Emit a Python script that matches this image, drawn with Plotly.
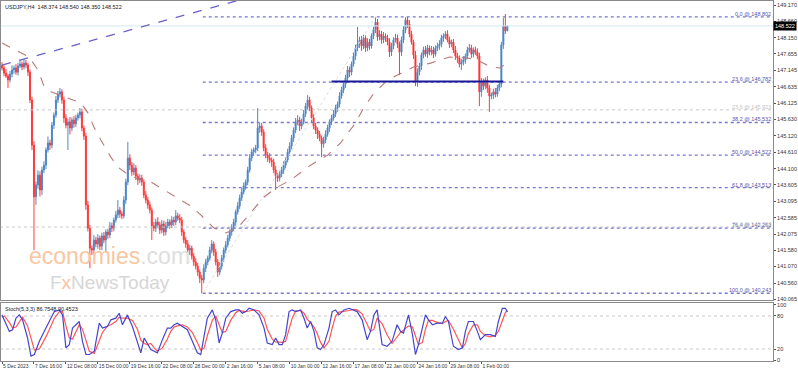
import plotly.graph_objects as go

# ---------------- data ----------------
first_open = 147.30
closes = [
    147.22, 147.06, 146.97, 146.85, 147.03, 147.16, 147.22, 147.09, 147.28, 147.34,
    147.25, 147.37, 147.31, 147.09, 146.23, 144.83, 143.23, 143.60, 143.90, 143.44,
    144.06, 144.21, 144.68, 144.90, 144.83, 145.45, 145.76, 146.23, 146.41, 146.48,
    146.23, 145.67, 145.45, 145.55, 145.36, 145.61, 145.49, 145.67, 145.76, 145.86,
    145.36, 145.11, 142.98, 142.26, 141.64, 141.58, 141.89, 141.77, 141.95, 141.70,
    142.02, 141.89, 142.14, 142.05, 142.33, 142.26, 142.51, 142.67, 142.82, 142.70,
    142.64, 143.13, 143.69, 144.43, 144.21, 144.00, 144.12, 143.87, 143.75, 143.81,
    143.69, 143.29, 143.13, 142.98, 142.82, 142.33, 142.26, 142.45, 142.36, 142.20,
    142.39, 142.14, 142.33, 142.45, 142.36, 142.51, 142.45, 142.64, 142.57, 142.51,
    142.14, 141.89, 141.77, 141.58, 141.64, 141.39, 141.21, 141.08, 140.90, 140.71,
    140.65, 141.02, 141.21, 141.33, 141.58, 141.77, 141.52, 141.21, 140.90, 141.08,
    141.33, 141.58, 141.74, 141.95, 142.14, 142.26, 142.45, 142.76, 142.95, 143.20,
    143.38, 143.57, 143.69, 144.06, 144.43, 144.62, 144.68, 144.74, 145.36, 145.42,
    145.24, 144.74, 144.52, 144.43, 144.37, 144.31, 144.06, 143.87, 143.81, 143.94,
    144.06, 144.21, 144.37, 144.62, 144.80, 145.05, 145.30, 145.55, 145.61, 145.42,
    145.55, 145.80, 146.04, 146.23, 145.98, 145.67, 145.42, 145.30, 145.17, 145.05,
    144.87, 144.99, 145.17, 145.36, 145.55, 145.67, 145.80, 145.98, 146.10, 146.35,
    146.54, 146.72, 146.91, 147.16, 147.09, 147.34, 147.59, 147.84, 147.96, 148.09,
    147.90, 148.15, 147.84, 148.02, 147.90, 148.21, 148.40, 148.64, 148.18, 148.27,
    148.09, 148.21, 148.15, 148.02, 147.71, 147.90, 148.09, 148.15, 147.96, 147.71,
    148.09, 148.40, 148.71, 148.58, 148.27, 148.02, 147.62, 146.79, 147.09, 147.28,
    147.62, 147.78, 147.65, 147.84, 147.71, 147.78, 147.65, 147.84, 147.90, 147.96,
    148.15, 148.21, 148.27, 148.09, 147.96, 148.02, 147.78, 147.59, 147.53, 147.34,
    147.40, 147.47, 147.59, 147.78, 147.84, 147.65, 147.78, 147.71, 147.59, 146.48,
    146.79, 146.66, 146.85, 146.60, 146.35, 146.38, 146.48, 146.41, 146.60, 146.72,
    147.93, 148.52, 148.374, 148.522,
]
wick_up = [
    0.10, 0.08, 0.12, 0.06, 0.10, 0.14, 0.08, 0.12, 0.10, 0.15,
    0.08, 0.12, 0.10, 0.06, 0.08, 0.10, 0.12, 0.10, 0.15, 0.12,
    0.10, 0.12, 0.08, 0.20, 0.10, 0.10, 0.08, 0.12, 0.10, 0.12,
    0.08, 0.10, 0.12, 0.10, 0.15, 0.08, 0.12, 0.10, 0.08, 0.12,
    0.10, 0.08, 0.10, 0.12, 0.10, 0.08, 0.15, 0.10, 0.12, 0.08,
    0.10, 0.12, 0.08, 0.10, 0.12, 0.10, 0.08, 0.12, 0.31, 0.10,
    0.08, 0.12, 0.10, 0.50, 0.12, 0.10, 0.15, 0.10, 0.08, 0.12,
    0.10, 0.08, 0.12, 0.10, 0.10, 0.08, 0.12, 0.10, 0.15, 0.10,
    0.12, 0.10, 0.12, 0.10, 0.08, 0.12, 0.10, 0.18, 0.10, 0.12,
    0.10, 0.08, 0.10, 0.12, 0.10, 0.08, 0.10, 0.12, 0.10, 0.08,
    0.10, 0.12, 0.10, 0.08, 0.10, 0.12, 0.08, 0.10, 0.10, 0.12,
    0.10, 0.08, 0.12, 0.10, 0.08, 0.12, 0.10, 0.08, 0.12, 0.10,
    0.12, 0.10, 0.08, 0.10, 0.12, 0.10, 0.08, 0.10, 0.62, 0.10,
    0.10, 0.08, 0.12, 0.10, 0.15, 0.08, 0.10, 0.12, 0.10, 0.08,
    0.10, 0.12, 0.08, 0.10, 0.12, 0.10, 0.08, 0.12, 0.15, 0.10,
    0.10, 0.12, 0.10, 0.15, 0.10, 0.08, 0.12, 0.10, 0.08, 0.10,
    0.08, 0.10, 0.12, 0.10, 0.08, 0.10, 0.12, 0.10, 0.08, 0.12,
    0.10, 0.08, 0.10, 0.12, 0.10, 0.08, 0.12, 0.10, 0.53, 0.10,
    0.12, 0.10, 0.08, 0.12, 0.10, 0.08, 0.10, 0.16, 0.10, 0.12,
    0.10, 0.12, 0.08, 0.10, 0.12, 0.10, 0.08, 0.12, 0.10, 0.08,
    0.10, 0.12, 0.08, 0.10, 0.12, 0.10, 0.08, 0.13, 0.12, 0.10,
    0.08, 0.10, 0.12, 0.10, 0.08, 0.12, 0.10, 0.08, 0.10, 0.12,
    0.10, 0.08, 0.09, 0.12, 0.10, 0.08, 0.10, 0.12, 0.10, 0.08,
    0.10, 0.12, 0.08, 0.10, 0.12, 0.10, 0.08, 0.10, 0.12, 0.10,
    0.12, 0.10, 0.08, 0.12, 0.10, 0.08, 0.10, 0.12, 0.10, 0.08,
    0.10, 0.25, 0.37, 0.018,
]
wick_dn = [
    0.08, 0.10, 0.06, 0.25, 0.08, 0.10, 0.12, 0.08, 0.10, 0.06,
    0.10, 0.08, 0.10, 0.12, 0.10, 0.15, 1.65, 0.25, 0.12, 0.20,
    0.15, 0.10, 0.12, 0.08, 0.15, 0.10, 0.12, 0.08, 0.10, 0.10,
    0.12, 0.15, 0.10, 0.77, 0.20, 0.10, 0.12, 0.10, 0.08, 0.10,
    0.10, 0.12, 0.15, 0.10, 0.62, 0.15, 0.12, 0.10, 0.15, 0.12,
    0.12, 0.10, 0.37, 0.12, 0.10, 0.12, 0.10, 0.08, 0.10, 0.12,
    0.10, 0.08, 0.12, 0.10, 0.15, 0.12, 0.10, 0.12, 0.15, 0.10,
    0.12, 0.10, 0.10, 0.12, 0.10, 0.44, 0.10, 0.12, 0.10, 0.12,
    0.10, 0.12, 0.10, 0.08, 0.12, 0.10, 0.12, 0.10, 0.08, 0.10,
    0.12, 0.10, 0.12, 0.10, 0.15, 0.10, 0.12, 0.10, 0.12, 0.15,
    0.41, 0.10, 0.12, 0.10, 0.08, 0.10, 0.12, 0.10, 0.15, 0.10,
    0.10, 0.12, 0.10, 0.08, 0.10, 0.12, 0.10, 0.12, 0.08, 0.10,
    0.10, 0.08, 0.12, 0.10, 0.08, 0.10, 0.12, 0.10, 0.10, 0.15,
    0.12, 0.10, 0.10, 0.12, 0.10, 0.15, 0.10, 0.43, 0.12, 0.10,
    0.10, 0.12, 0.10, 0.08, 0.12, 0.10, 0.12, 0.10, 0.10, 0.15,
    0.10, 0.08, 0.10, 0.12, 0.10, 0.15, 0.10, 0.12, 0.15, 0.10,
    0.41, 0.12, 0.10, 0.08, 0.12, 0.10, 0.08, 0.10, 0.12, 0.10,
    0.08, 0.10, 0.12, 0.10, 0.15, 0.10, 0.08, 0.12, 0.10, 0.12,
    0.15, 0.10, 0.12, 0.10, 0.12, 0.08, 0.10, 0.10, 0.12, 0.10,
    0.12, 0.10, 0.12, 0.10, 0.15, 0.12, 0.10, 0.08, 0.12, 0.71,
    0.12, 0.10, 0.10, 0.12, 0.10, 0.08, 0.12, 0.13, 0.15, 0.10,
    0.12, 0.10, 0.08, 0.12, 0.10, 0.10, 0.12, 0.08, 0.10, 0.12,
    0.10, 0.12, 0.10, 0.08, 0.12, 0.10, 0.10, 0.12, 0.15, 0.10,
    0.18, 0.10, 0.12, 0.10, 0.08, 0.12, 0.10, 0.08, 0.10, 0.44,
    0.15, 0.12, 0.10, 0.15, 0.49, 0.10, 0.12, 0.10, 0.08, 0.10,
    0.10, 0.12, 0.10, 0.024,
]

# moving average (dashed) read at sample bars
ma_bar = [0, 13.5, 18, 21, 24.5, 33, 39.5, 43, 46, 49.5, 54.5, 58, 62, 66, 69.5, 74.5, 81,
          89.5, 94.5, 99.5, 106, 112, 118, 124.5, 130.5, 137, 144.5, 154.5, 163, 169.5,
          177, 180.5, 185.5, 192, 197, 206, 214.5, 224, 233, 238, 244.5, 249.5, 253]
ma_val = [147.99, 147.56, 147.16, 146.66, 146.48, 146.29, 146.14, 145.83, 145.39, 144.99,
          144.46, 144.15, 143.97, 143.84, 143.75, 143.69, 143.44, 143.13, 142.95, 142.67,
          142.27, 142.11, 142.27, 142.73, 143.19, 143.50, 143.75, 144.21, 144.52, 144.90,
          145.52, 145.92, 146.38, 146.79, 146.97, 147.25, 147.37, 147.56, 147.53, 147.47,
          147.25, 147.22, 147.40]

# stochastic (5,3,3) read at sample bars
st_bar = [0, 1.2, 3.7, 5.3, 7, 8.7, 10.3, 12.8, 14.5, 16.2, 18.7, 22, 24.5, 26.2, 28.7, 30.3,
          32, 33.7, 35.3, 37, 38.7, 40.3, 42, 43.7, 46.2, 48.7, 50.3, 52.8, 54.5, 57, 58.7,
          60.3, 62.8, 65.3, 67.8, 69.5, 71.2, 72.8, 74.5, 76.2, 77.8, 80.3, 82.8, 84.5, 86.2,
          87.8, 90.3, 92.8, 95.3, 97.8, 99.5, 101.2, 102.8, 105.3, 107, 108.7, 110.3, 112,
          114.5, 117, 118.7, 120.3, 122, 123.7, 126.2, 128.7, 131.2, 132.8, 135.3, 137,
          138.7, 140.3, 142, 143.7, 145.3, 147, 149.5, 151.2, 152.8, 154.5, 156.2, 157.8,
          159.5, 161.2, 163.7, 165.3, 167, 168.7, 171.2, 173.7, 176.2, 177.8, 180.3, 182.8,
          184.5, 186.2, 187.8, 190.3, 192.8, 195.3, 197.8, 199.5, 201, 203.5, 205.5, 207,
          208.5, 210.5, 212, 213.5, 215.5, 218, 220.5, 222, 223.5, 226, 228.5, 230.5, 232,
          233.5, 236, 238, 239.5, 242, 244.5, 247, 248.5, 250.5, 252, 253]
st_k = [82, 73, 52, 55, 76, 82, 73, 40, 7, 10, 34, 58, 76, 88, 91, 82,
        22, 28, 58, 64, 70, 34, 10, 10, 16, 67, 58, 61, 73, 76, 85,
        64, 82, 61, 34, 13, 40, 31, 19, 16, 13, 37, 58, 58, 64,
        67, 61, 55, 34, 13, 10, 46, 76, 91, 73, 31, 49, 76,
        88, 91, 91, 85, 88, 94, 91, 82, 58, 31, 28, 40,
        28, 28, 46, 88, 91, 88, 91, 76, 58, 70, 52, 22,
        19, 28, 58, 88, 91, 82, 91, 94, 91, 88, 73, 37,
        52, 82, 91, 28, 25, 34, 64, 52, 49, 82, 46, 10,
        28, 58, 82, 73, 64, 67, 67, 79, 70, 25, 19, 22, 52,
        70, 70, 52, 37, 46, 46, 43, 70, 94, 94, 87]
st_d = [78, 80, 68, 58, 60, 70, 78, 62, 38, 18, 20, 42, 62, 76, 88, 88,
        62, 40, 38, 52, 64, 56, 36, 16, 12, 34, 50, 62, 64, 70, 78,
        76, 76, 72, 56, 36, 30, 28, 30, 22, 16, 22, 38, 52, 60,
        62, 64, 60, 50, 32, 18, 22, 44, 72, 80, 64, 50, 52,
        72, 86, 90, 89, 88, 89, 91, 89, 76, 56, 38, 33,
        32, 32, 34, 54, 76, 89, 90, 85, 74, 68, 60, 48,
        32, 22, 34, 58, 80, 87, 88, 90, 92, 91, 84, 64,
        52, 56, 76, 66, 46, 30, 42, 50, 54, 62, 60, 42,
        28, 32, 56, 72, 72, 68, 66, 70, 72, 56, 36, 22, 30,
        48, 64, 64, 52, 44, 42, 45, 52, 70, 86, 90]

x_tick_bars = [0, 16, 32, 48, 64, 80, 96, 112, 128, 144, 160, 176, 192, 208, 224, 240]
x_tick_text = ["5 Dec 2023", "7 Dec 16:00", "12 Dec 08:00", "15 Dec 00:00", "19 Dec 16:00",
               "22 Dec 08:00", "28 Dec 00:00", "2 Jan 16:00", "5 Jan 08:00", "10 Jan 00:00",
               "12 Jan 16:00", "17 Jan 08:00", "22 Jan 00:00", "24 Jan 16:00", "29 Jan 08:00",
               "1 Feb 00:00"]
y_ticks = [149.170, 148.660, 148.150, 147.655, 147.145, 146.635, 146.125, 145.630, 145.120,
           144.610, 144.100, 143.605, 143.095, 142.585, 142.075, 141.580, 141.070, 140.560,
           140.065]

fib_pct = ["0.0", "23.6", "38.2", "50.0", "61.8", "76.4", "100.0"]
fib_val = [148.802, 146.782, 145.532, 144.522, 143.513, 142.263, 140.243]
fib_start_bar = 100.5
grey_pct = ["23.6", "78.6"]
grey_val = [145.923, 142.293]
support_level = 146.80
support_bars = [165, 251]
trend_bars = [0, 140]
trend_vals = [147.31, 149.68]
bid = 148.522
stoch_now = (86.7548, 90.4523)

# ---------------- figure ----------------
bars = list(range(len(closes)))
opens = [first_open] + closes[:-1]
highs = [max(o, c) + u for o, c, u in zip(opens, closes, wick_up)]
lows = [min(o, c) - d for o, c, d in zip(opens, closes, wick_dn)]

X_END = 386
FONT = "Liberation Sans"
fig = go.Figure()

for v in grey_val:
    fig.add_trace(go.Scatter(x=[-1, X_END], y=[v, v], mode="lines", xaxis="x", yaxis="y",
                             line=dict(color="#c8c8c8", width=1, dash="dot"), hoverinfo="skip"))
for v in fib_val:
    fig.add_trace(go.Scatter(x=[fib_start_bar, X_END], y=[v, v], mode="lines", xaxis="x", yaxis="y",
                             line=dict(color="#7777cc", width=1.3, dash="dot"), hoverinfo="skip"))
fig.add_trace(go.Scatter(x=[fib_start_bar, 187], y=[fib_val[-1], fib_val[0]], mode="lines",
                         line=dict(color="#dddddd", width=1, dash="dot"), hoverinfo="skip"))
fig.add_trace(go.Scatter(x=[-1, X_END], y=[bid, bid], mode="lines",
                         line=dict(color="#cfe8f2", width=1), hoverinfo="skip"))
fig.add_trace(go.Scatter(x=trend_bars, y=trend_vals, mode="lines",
                         line=dict(color="#6a62c8", width=1.3, dash="dash"), hoverinfo="skip"))

fig.add_trace(go.Candlestick(
    x=bars, open=opens, high=highs, low=lows, close=closes, xaxis="x", yaxis="y",
    increasing=dict(line=dict(color="#4f88c6", width=1), fillcolor="#2a68ad"),
    decreasing=dict(line=dict(color="#ff3b3b", width=1), fillcolor="#ff0000"),
    whiskerwidth=0, hoverinfo="skip"))

fig.add_trace(go.Scatter(x=ma_bar, y=ma_val, mode="lines",
                         line=dict(color="#b87878", width=1.1, dash="dash"), hoverinfo="skip"))
fig.add_trace(go.Scatter(x=support_bars, y=[support_level, support_level], mode="lines",
                         line=dict(color="#1a1a99", width=2), hoverinfo="skip"))

for lv in (20, 80):
    fig.add_trace(go.Scatter(x=[-1, X_END], y=[lv, lv], mode="lines", xaxis="x2", yaxis="y2",
                             line=dict(color="#c8c8c8", width=1, dash="dot"), hoverinfo="skip"))
fig.add_trace(go.Scatter(x=st_bar, y=st_d, mode="lines", xaxis="x2", yaxis="y2",
                         line=dict(color="#ff5555", width=1.2), hoverinfo="skip"))
fig.add_trace(go.Scatter(x=st_bar, y=st_k, mode="lines", xaxis="x2", yaxis="y2",
                         line=dict(color="#4646cc", width=1.2), hoverinfo="skip"))

ann = []
for p, v in zip(fib_pct, fib_val):
    ann.append(dict(x=X_END, y=v, xref="x", yref="y", text=f"{p} @ {v:.3f}", showarrow=False,
                    xanchor="right", yanchor="bottom", yshift=-2,
                    font=dict(family=FONT, size=5.5, color="#5555aa")))
for p, v in zip(grey_pct, grey_val):
    ann.append(dict(x=X_END, y=v, xref="x", yref="y", text=f"{p} @ {v:.3f}", showarrow=False,
                    xanchor="right", yanchor="bottom", yshift=-2,
                    font=dict(family=FONT, size=5.5, color="#c4c4c4")))
ann.append(dict(x=0.003, y=0.997, xref="paper", yref="paper", xanchor="left", yanchor="top",
                showarrow=False, text="USDJPY,H4  148.374 148.540 148.350 148.522",
                font=dict(family=FONT, size=5.5, color="#202020")))
ann.append(dict(x=0.003, y=0.158, xref="paper", yref="paper", xanchor="left", yanchor="top",
                showarrow=False, text=f"Stoch(5,3,3) {stoch_now[0]:.4f} {stoch_now[1]:.4f}",
                font=dict(family=FONT, size=5.5, color="#202020")))
ann.append(dict(x=1.0, y=bid, xref="paper", yref="y", xanchor="left", yanchor="middle",
                showarrow=False, text=f"{bid:.3f}", bgcolor="#000000", borderpad=1,
                font=dict(family=FONT, size=5.5, color="#ffffff")))
ann.append(dict(x=0.141, y=0.292, xref="paper", yref="paper", showarrow=False,
                xanchor="center", yanchor="middle",
                text='<span style="color:#f8c6a2">economies</span><span style="color:#dedede">.com</span>',
                font=dict(family=FONT, size=23)))
ann.append(dict(x=0.141, y=0.217, xref="paper", yref="paper", showarrow=False,
                xanchor="center", yanchor="middle",
                text='<span style="color:#d6d6d6">F</span><span style="color:#f3c3a6">x</span><span style="color:#d6d6d6">NewsToday</span>',
                font=dict(family=FONT, size=19)))

axis_common = dict(showgrid=False, zeroline=False, showline=True, mirror=True,
                   linecolor="#8a8a8a", linewidth=1, automargin=False)
tick_font = dict(family=FONT, size=5.5, color="#333")
fig.update_layout(
    width=798, height=371, margin=dict(l=1, r=25, t=1, b=10),
    paper_bgcolor="#ffffff", plot_bgcolor="#ffffff", showlegend=False,
    xaxis=dict(domain=[0, 1], range=[-0.5, X_END], anchor="y", showticklabels=False,
               ticks="", rangeslider=dict(visible=False), **axis_common),
    yaxis=dict(domain=[0.1694, 1], range=[140.034, 149.294], side="right", anchor="x",
               tickvals=y_ticks, ticktext=[f"{v:.3f}" for v in y_ticks], ticks="outside",
               ticklen=2, tickcolor="#555", tickfont=tick_font, **axis_common),
    xaxis2=dict(domain=[0, 1], range=[-0.5, X_END], anchor="y2", tickvals=x_tick_bars,
                ticktext=x_tick_text, ticks="outside", ticklen=2, tickcolor="#555",
                tickangle=0, ticklabelposition="outside right",
                tickfont=dict(family=FONT, size=5, color="#333"), **axis_common),
    yaxis2=dict(domain=[0, 0.1611], range=[-1.8, 103.6], side="right", anchor="x2",
                tickvals=[0, 20, 80, 100], ticks="outside", ticklen=2, tickcolor="#555",
                tickfont=tick_font, **axis_common),
    annotations=ann,
)
fig.write_html("out.html", config={"displayModeBar": False},
               post_script="document.body.style.margin='0';document.body.style.overflow='hidden';")
